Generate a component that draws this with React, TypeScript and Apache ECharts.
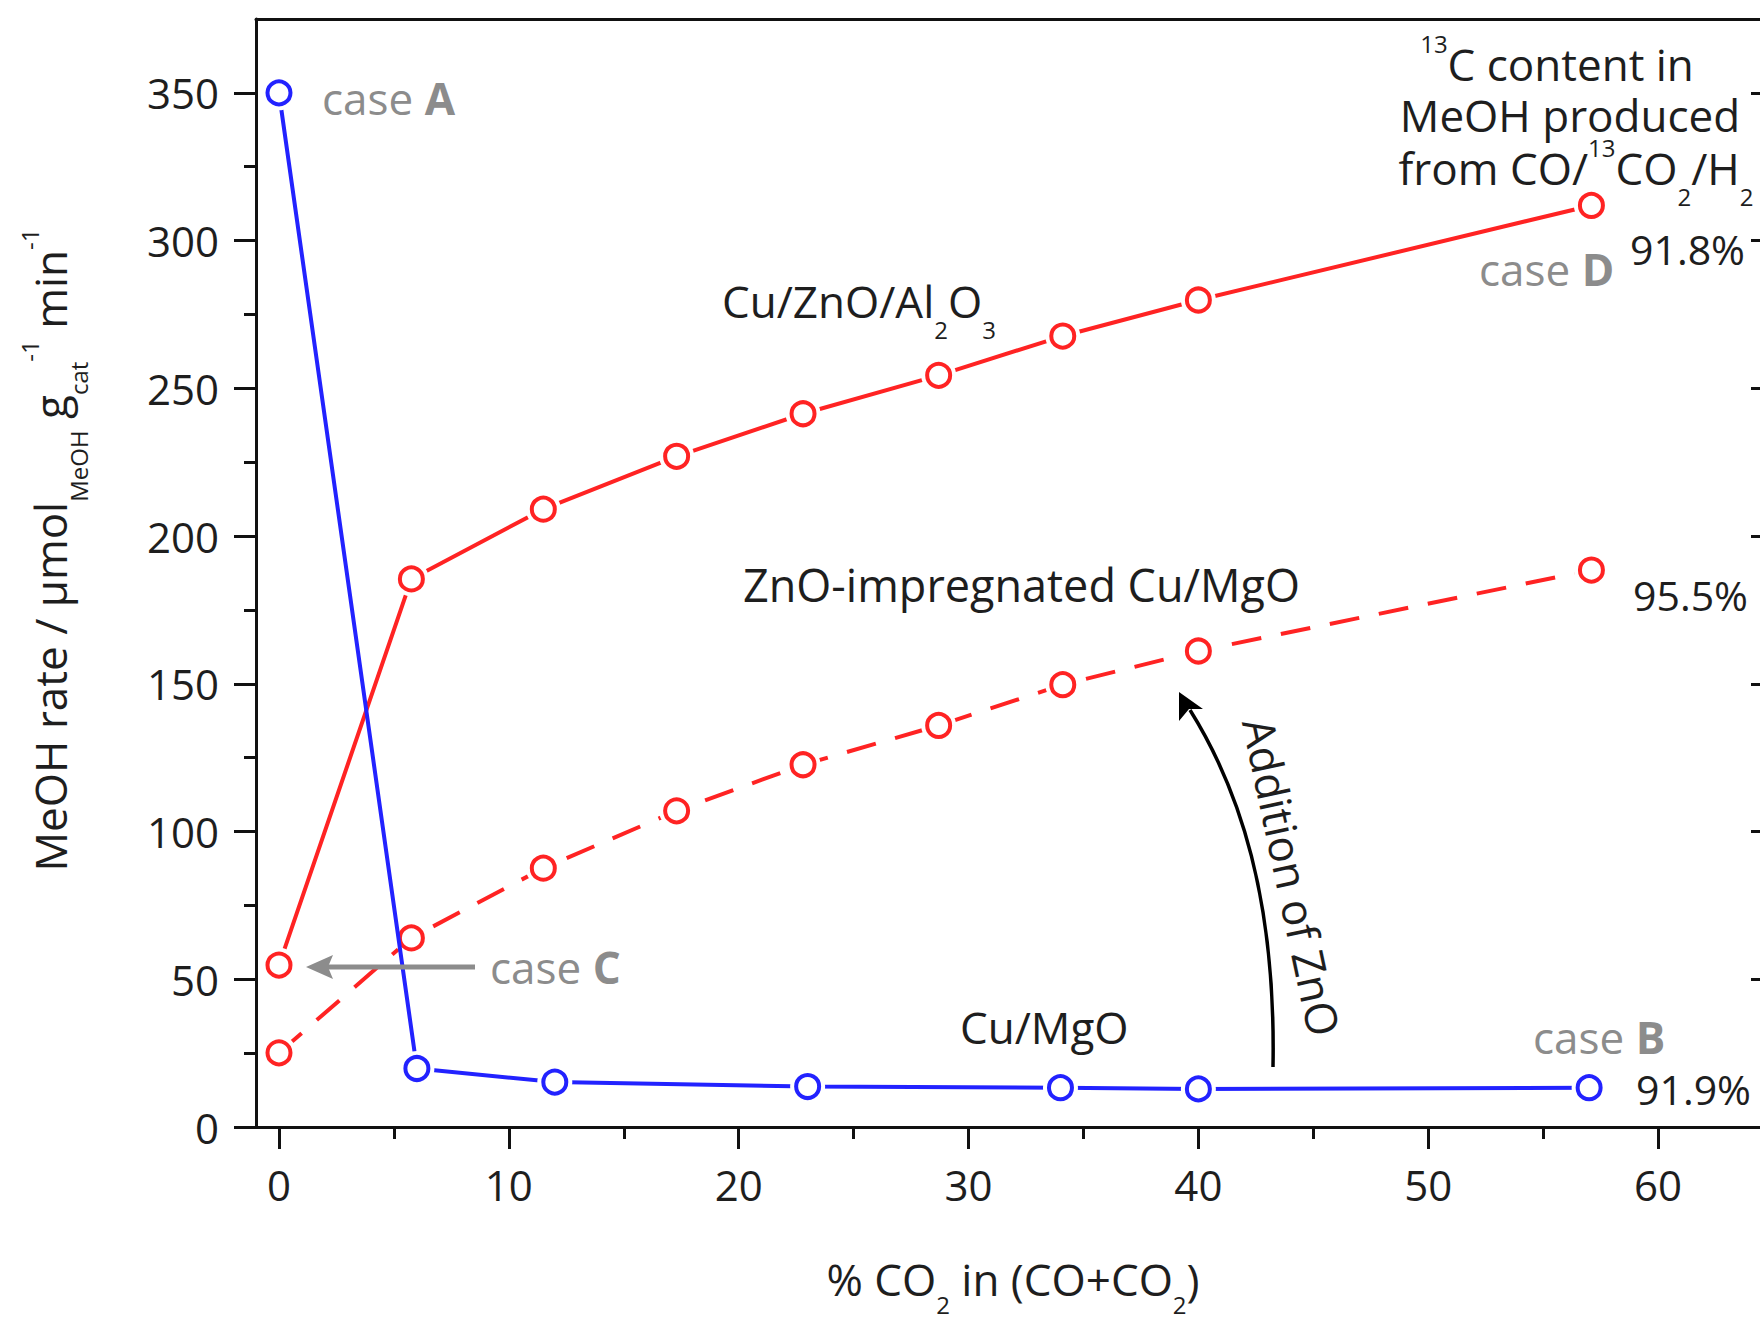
import React, { useEffect, useRef } from "react";
import * as echarts from "echarts";

// ---------- data ----------
const xCuMgO = [0, 6.0, 12.0, 23.0, 34.0, 40.0, 57.0];
const yCuMgO = [350, 19.8, 15.2, 13.7, 13.3, 12.9, 13.3];

const xZnSeries = [0, 5.76, 11.5, 17.3, 22.8, 28.7, 34.1, 40.0, 57.1];
const yCuZnOAl2O3 = [54.8, 185.5, 209.1, 227.0, 241.4, 254.4, 267.7, 279.9, 311.9];
const yZnOImpCuMgO = [25.1, 64.0, 87.6, 107.0, 122.6, 135.9, 149.7, 161.1, 188.5];

const xTickValues = [0, 10, 20, 30, 40, 50, 60];
const xMinorTickValues = [5, 15, 25, 35, 45, 55];
const yTickValues = [0, 50, 100, 150, 200, 250, 300, 350];
const yMinorTickValues = [25, 75, 125, 175, 225, 275, 325];

const c13Contents = ["91.8%", "95.5%", "91.9%"];

// ---------- styling ----------
const FONT = "'Open Sans', 'Noto Sans', 'DejaVu Sans', sans-serif";
const BLACK = "#1e1e1e";
const AXIS = "#111111";
const GRAY = "#8c8c8c";
const RED = "#ff2323";
const BLUE = "#2222ff";

function rich(size: number, color: string, subLH = 24) {
  return {
    n: { fontSize: size, lineHeight: 80, fontFamily: FONT, color },
    b: { fontSize: size, lineHeight: 80, fontFamily: FONT, color, fontWeight: "bold" },
    sub: { fontSize: 24, lineHeight: subLH, height: subLH, verticalAlign: "bottom", fontFamily: FONT, color },
    sup: { fontSize: 24, padding: [7, 0, 0, 0], verticalAlign: "top", fontFamily: FONT, color },
  };
}

function label(
  x: number,
  y: number,
  text: string,
  opts: { size?: number; color?: string; align?: string; rotation?: number; subLH?: number } = {}
) {
  const size = opts.size ?? 44;
  const color = opts.color ?? BLACK;
  return {
    type: "text",
    x,
    y,
    rotation: opts.rotation ?? 0,
    z: 100,
    style: {
      text,
      rich: rich(size, color, opts.subLH ?? 24),
      align: opts.align ?? "left",
      verticalAlign: "middle",
      fill: color,
      font: `${size}px ${FONT}`,
    },
  };
}

function buildGraphic() {
  const els: any[] = [];
  // case labels
  els.push(label(322, 98, "{n|case }{b|A}", { color: GRAY }));
  els.push(label(490, 967, "{n|case }{b|C}", { color: GRAY }));
  els.push(label(1533, 1037, "{n|case }{b|B}", { color: GRAY }));
  els.push(label(1479, 269, "{n|case }{b|D}", { color: GRAY }));
  // 13C contents
  els.push(label(1630, 249, `{n|${c13Contents[0]}}`, { size: 41 }));
  els.push(label(1633, 595, `{n|${c13Contents[1]}}`, { size: 41 }));
  els.push(label(1636, 1089, `{n|${c13Contents[2]}}`, { size: 41 }));
  // series names
  els.push(label(722, 301, "{n|Cu/ZnO/Al}{sub|2}{n|O}{sub|3}"));
  els.push(label(743, 584, "{n|ZnO-impregnated Cu/MgO}", { size: 45 }));
  els.push(label(960, 1027, "{n|Cu/MgO}"));
  // Addition of ZnO (reads top to bottom, slightly tilted along the arrow)
  els.push(
    label(1292, 877, "{n|Addition of ZnO}", {
      align: "center",
      rotation: -Math.PI / 2 + (12 * Math.PI) / 180,
    })
  );
  // Top-right block
  els.push(label(1557, 64, "{sup|13}{n|C content in}", { align: "center" }));
  els.push(label(1570, 115, "{n|MeOH produced}", { align: "center" }));
  els.push(label(1576, 168, "{n|from CO/}{sup|13}{n|CO}{sub|2}{n|/H}{sub|2}", { align: "center" }));
  // axis titles
  els.push(
    label(1013, 1279, "{n|% CO}{sub|2}{n| in (CO+CO}{sub|2}{n|)}", { align: "center", subLH: 30 })
  );
  els.push(
    label(50, 550, "{n|MeOH rate / µmol}{sub|MeOH}{n| g}{sub|cat}{sup|-1}{n| min}{sup|-1}", {
      align: "center",
      rotation: Math.PI / 2,
    })
  );

  // case C gray arrow
  els.push({
    type: "line",
    z: 90,
    shape: { x1: 475, y1: 967, x2: 328, y2: 967 },
    style: { stroke: GRAY, lineWidth: 5 },
  });
  els.push({
    type: "polygon",
    z: 90,
    shape: { points: [[306, 967], [333, 955], [328, 967], [333, 979]] },
    style: { fill: GRAY },
  });

  // Addition of ZnO curved arrow
  els.push({
    type: "bezierCurve",
    z: 90,
    shape: { x1: 1273, y1: 1067, cpx1: 1276, cpy1: 900, cpx2: 1240, cpy2: 790, x2: 1190, y2: 710 },
    style: { stroke: "#000", lineWidth: 3.5, fill: "none" },
  });
  els.push({
    type: "polygon",
    z: 90,
    shape: { points: [[1179, 692], [1203, 709], [1189, 709], [1179, 721]] },
    style: { fill: "#000" },
  });
  return els;
}

const axisLineStyle = { color: AXIS, width: 3 };

function lineSeries(name: string, xs: number[], ys: number[], color: string, z: number, dashed = false) {
  const data = xs.map((x, i) => [x, ys[i]]);
  return [
    {
      name,
      type: "line",
      xAxisIndex: 0,
      yAxisIndex: 0,
      data,
      symbol: "none",
      lineStyle: { color, width: 4, type: dashed ? [30, 20] : "solid" },
      z,
      silent: true,
    },
    {
      name: name + " halo",
      type: "scatter",
      xAxisIndex: 0,
      yAxisIndex: 0,
      data,
      symbol: "circle",
      symbolSize: 35,
      itemStyle: { color: "#ffffff", opacity: 1 },
      z: z + 1,
      silent: true,
    },
    {
      name: name + " markers",
      type: "scatter",
      xAxisIndex: 0,
      yAxisIndex: 0,
      data,
      symbol: "circle",
      symbolSize: 23,
      itemStyle: { color: "#ffffff", borderColor: color, borderWidth: 4, opacity: 1 },
      z: z + 2,
    },
  ];
}

function makeOption() {
  return {
    animation: false,
    backgroundColor: "#ffffff",
    grid: {
      left: 256,
      top: 19,
      width: 1517,
      height: 1108,
      containLabel: false,
      outerBoundsMode: "none",
    },
    xAxis: [
      {
        type: "value",
        position: "bottom",
        min: -1,
        max: 65,
        axisLine: { show: true, onZero: false, lineStyle: axisLineStyle },
        axisTick: { show: true, inside: false, length: 22, lineStyle: axisLineStyle, customValues: xTickValues },
        axisLabel: {
          show: true,
          customValues: xTickValues,
          fontSize: 42,
          fontFamily: FONT,
          color: BLACK,
          margin: 36,
        },
        splitLine: { show: false },
      },
      {
        type: "value",
        position: "bottom",
        min: -1,
        max: 65,
        axisLine: { show: false, onZero: false },
        axisTick: { show: true, inside: false, length: 12, lineStyle: axisLineStyle, customValues: xMinorTickValues },
        axisLabel: { show: false },
        splitLine: { show: false },
      },
      {
        type: "value",
        position: "top",
        min: -1,
        max: 65,
        axisLine: { show: true, onZero: false, lineStyle: axisLineStyle },
        axisTick: { show: false },
        axisLabel: { show: false },
        splitLine: { show: false },
      },
    ],
    yAxis: [
      {
        type: "value",
        position: "left",
        min: 0,
        max: 375,
        axisLine: { show: true, onZero: false, lineStyle: axisLineStyle },
        axisTick: { show: true, inside: false, length: 22, lineStyle: axisLineStyle, customValues: yTickValues },
        axisLabel: {
          show: true,
          customValues: yTickValues,
          fontSize: 42,
          fontFamily: FONT,
          color: BLACK,
          margin: 37,
        },
        splitLine: { show: false },
      },
      {
        type: "value",
        position: "left",
        min: 0,
        max: 375,
        axisLine: { show: false, onZero: false },
        axisTick: { show: true, inside: false, length: 12, lineStyle: axisLineStyle, customValues: yMinorTickValues },
        axisLabel: { show: false },
        splitLine: { show: false },
      },
      {
        type: "value",
        position: "right",
        min: 0,
        max: 375,
        axisLine: { show: true, onZero: false, lineStyle: axisLineStyle },
        axisTick: { show: true, inside: true, length: 22, lineStyle: axisLineStyle, customValues: yTickValues },
        axisLabel: { show: false },
        splitLine: { show: false },
      },
      {
        type: "value",
        position: "right",
        min: 0,
        max: 375,
        axisLine: { show: false, onZero: false },
        axisTick: { show: true, inside: true, length: 13, lineStyle: axisLineStyle, customValues: yMinorTickValues },
        axisLabel: { show: false },
        splitLine: { show: false },
      },
    ],
    series: [
      ...lineSeries("Cu/ZnO/Al2O3", xZnSeries, yCuZnOAl2O3, RED, 2),
      ...lineSeries("ZnO-impregnated Cu/MgO", xZnSeries, yZnOImpCuMgO, RED, 2, true),
      ...lineSeries("Cu/MgO", xCuMgO, yCuMgO, BLUE, 6),
    ],
    graphic: buildGraphic(),
  };
}

export default function App() {
  const ref = useRef<HTMLDivElement>(null);
  useEffect(() => {
    if (!ref.current) return;
    const chart = echarts.init(ref.current, null, { renderer: "svg" });
    chart.setOption(makeOption() as any);
    return () => {
      chart.dispose();
    };
  }, []);
  return (
    <div
      ref={ref}
      style={{
        position: "absolute",
        left: 0,
        top: 0,
        width: 1760,
        height: 1322,
        background: "#ffffff",
        overflow: "hidden",
      }}
    />
  );
}
